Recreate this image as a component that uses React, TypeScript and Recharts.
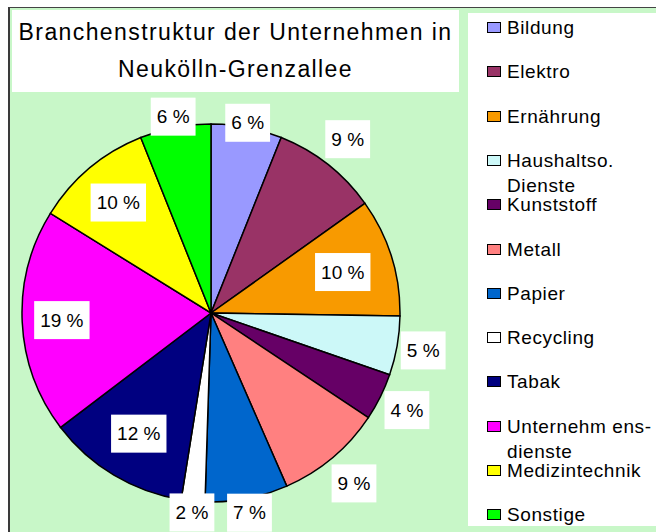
import { PieChart, Pie, Cell, Legend } from 'recharts';

const categories = [
  'Bildung',
  'Elektro',
  'Ernährung',
  'Haushaltso.\nDienste',
  'Kunststoff',
  'Metall',
  'Papier',
  'Recycling',
  'Tabak',
  'Unternehm ens-\ndienste',
  'Medizintechnik',
  'Sonstige',
];

const shares = [6, 9, 10, 5, 4, 9, 7, 2, 12, 19, 10, 6];

const colors = [
  '#9999ff',
  '#993366',
  '#f89a00',
  '#ccf8f8',
  '#660066',
  '#ff8080',
  '#0066cc',
  '#ffffff',
  '#000080',
  '#ff00ff',
  '#ffff00',
  '#00ff00',
];

// label distance from centre, as a factor of the radius (Excel "best fit")
const labelRadius = [1.025, 1.17, 0.73, 1.14, 1.157, 1.177, 1.076, 1.06, 0.744, 0.79, 0.763, 1.058];

const data = categories.map((name, i) => ({ name, value: shares[i] }));

const RAD = Math.PI / 180;
const FONT = '"Liberation Sans", Arial, sans-serif';

const renderLabel = (p: any) => {
  const { cx, cy, midAngle, outerRadius, index } = p;
  const r = outerRadius * labelRadius[index];
  const x = cx + r * Math.cos(-midAngle * RAD);
  const y = cy + r * Math.sin(-midAngle * RAD);
  const v = shares[index];
  const w = String(v).length * 10.6 + 5.3 + 16.9 + 12;
  const h = 38;
  return (
    <g key={`lbl-${index}`}>
      <rect x={x - w / 2} y={y - h / 2} width={w} height={h} fill="#ffffff" />
      <text
        x={x}
        y={y}
        textAnchor="middle"
        dominantBaseline="central"
        fontFamily={FONT}
        fontSize={19}
        fill="#000"
      >
        {`${v} %`}
      </text>
    </g>
  );
};

const renderLegend = () => (
  <div style={{ position: 'relative', width: 188, height: 513, background: '#fff' }}>
    {categories.map((name, i) => (
      <div
        key={name}
        style={{
          position: 'absolute',
          left: 0,
          top: 2 + i * 44.3,
          width: 188,
          lineHeight: '25px',
          fontFamily: FONT,
          fontSize: 19,
          letterSpacing: 0.6,
          color: '#000',
        }}
      >
        <span
          style={{
            position: 'absolute',
            left: 19,
            top: 7,
            width: 14,
            height: 11,
            boxSizing: 'border-box',
            border: '1.5px solid #000',
            background: colors[i],
          }}
        />
        <div style={{ marginLeft: 39, whiteSpace: 'pre-line' }}>{name}</div>
      </div>
    ))}
  </div>
);

export default function App() {
  return (
    <div style={{ position: 'absolute', left: 0, top: 0, width: 656, height: 532, background: '#fff', overflow: 'hidden' }}>
      <div
        style={{
          position: 'absolute',
          left: 8,
          top: 7,
          right: 0,
          bottom: 0,
          background: '#c8f7c8',
          borderTop: '1px solid #444',
          borderLeft: '2px solid #3a3a3a',
        }}
      />
      <div
        style={{
          position: 'absolute',
          left: 12,
          top: 10,
          width: 447,
          height: 82,
          background: '#fff',
          fontFamily: FONT,
          fontSize: 23,
          letterSpacing: 1.4,
          lineHeight: '36.6px',
          textAlign: 'center',
          paddingTop: 4,
          boxSizing: 'border-box',
          color: '#000',
        }}
      >
        Branchenstruktur der Unternehmen in
        <br />
        Neukölln-Grenzallee
      </div>
      <div style={{ position: 'absolute', left: 0, top: 0 }}>
        <PieChart width={656} height={532} margin={{ top: 0, right: 0, bottom: 0, left: 0 }}>
          <Pie
            data={data}
            dataKey="value"
            nameKey="name"
            cx={211}
            cy={313}
            outerRadius={189}
            startAngle={90}
            endAngle={-270}
            stroke="#000"
            strokeWidth={1.5}
            labelLine={false}
            label={renderLabel}
            isAnimationActive={false}
          >
            {data.map((_, i) => (
              <Cell key={`cell-${i}`} fill={colors[i]} />
            ))}
          </Pie>
          <Legend
            content={renderLegend}
            wrapperStyle={{ position: 'absolute', left: 468, top: 13, width: 188, height: 513 }}
          />
        </PieChart>
      </div>
    </div>
  );
}
